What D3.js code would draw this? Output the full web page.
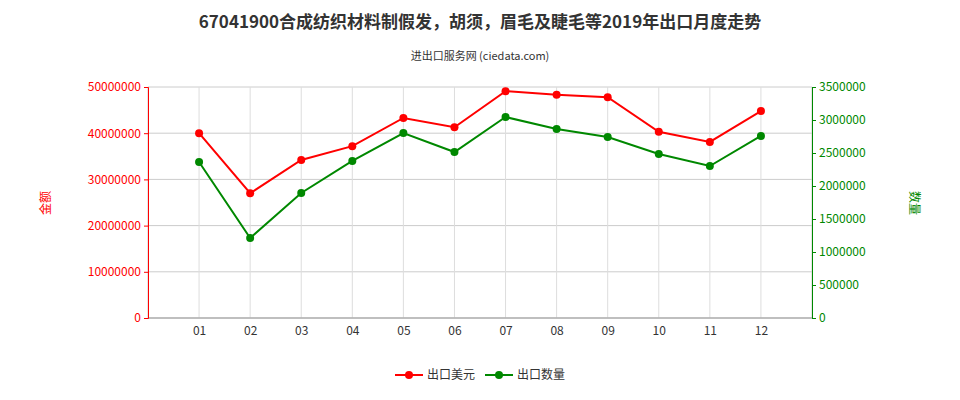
<!DOCTYPE html><html><head><meta charset="utf-8"><script src="https://cdn.jsdelivr.net/npm/d3@7"></script>
<style>body{margin:0;background:#fff}text{font-family:"Noto Sans CJK SC","Noto Sans",sans-serif}</style></head><body><svg id="c" width="960" height="400"></svg><script>
const months=["01","02","03","04","05","06","07","08","09","10","11","12"];
const amount=[40000000,27000000,34200000,37200000,43300000,41300000,49100000,48300000,47800000,40300000,38100000,44800000];
const qty=[2364000,1212000,1894000,2379000,2803000,2515000,3045000,2864000,2742000,2485000,2303000,2758000];
const leftTicks=[0,10000000,20000000,30000000,40000000,50000000];
const rightTicks=[0,500000,1000000,1500000,2000000,2500000,3000000,3500000];
const svg=d3.select("#c");
const L=148,R=812,T=87,B=318;
const x=d3.scalePoint().domain(months).range([L,R]).padding(1);
const yl=d3.scaleLinear().domain([0,50000000]).range([B,T]);
const yr=d3.scaleLinear().domain([0,3500000]).range([B,T]);
const g=svg.append("g");
leftTicks.forEach(t=>g.append("line").attr("x1",L).attr("x2",R).attr("y1",yl(t)).attr("y2",yl(t)).attr("stroke","#ccc"));
months.forEach(m=>g.append("line").attr("x1",x(m)).attr("x2",x(m)).attr("y1",T).attr("y2",B).attr("stroke","#ddd"));
[L,R].forEach(v=>g.append("line").attr("x1",v).attr("x2",v).attr("y1",T).attr("y2",B).attr("stroke","#ccc"));
svg.append("g").attr("transform",`translate(0,${B})`).call(d3.axisBottom(x).tickSize(0).tickPadding(8)).call(a=>{a.select(".domain").attr("stroke","#999").attr("d",`M${L},0H${R}`);a.selectAll("text").attr("font-size",12).attr("fill","#333");});
svg.append("g").attr("transform",`translate(${L},0)`).call(d3.axisLeft(yl).tickValues(leftTicks).tickFormat(d3.format("d")).tickSize(4)).call(a=>{a.select(".domain").attr("stroke","#f00");a.selectAll("line").attr("stroke","#f00");a.selectAll("text").attr("font-size",12).attr("fill","#f00");});
svg.append("g").attr("transform",`translate(${R},0)`).call(d3.axisRight(yr).tickValues(rightTicks).tickFormat(d3.format("d")).tickSize(4)).call(a=>{a.select(".domain").attr("stroke","#080");a.selectAll("line").attr("stroke","#080");a.selectAll("text").attr("font-size",12).attr("fill","#080");});
function series(data,y,color){
 svg.append("path").datum(data).attr("fill","none").attr("stroke",color).attr("stroke-width",2).attr("d",d3.line().x((d,i)=>x(months[i])).y(d=>y(d)));
 svg.append("g").selectAll("circle").data(data).join("circle").attr("cx",(d,i)=>x(months[i])).attr("cy",d=>y(d)).attr("r",4).attr("fill",color);
}
series(amount,yl,"#f00");series(qty,yr,"#080");
svg.append("text").attr("x",480).attr("y",28).attr("text-anchor","middle").attr("font-size",17).attr("font-weight","bold").attr("fill","#333").text("67041900合成纺织材料制假发，胡须，眉毛及睫毛等2019年出口月度走势");
svg.append("text").attr("x",480).attr("y",60).attr("text-anchor","middle").attr("font-size",11).attr("fill","#333").text("进出口服务网 (ciedata.com)");
svg.append("text").attr("transform","translate(50,203) rotate(-90)").attr("text-anchor","middle").attr("font-size",12).attr("fill","#f00").text("金额");
svg.append("text").attr("transform","translate(910,203) rotate(90)").attr("text-anchor","middle").attr("font-size",12).attr("fill","#080").text("数量");
[[395,"#f00","出口美元"],[485,"#080","出口数量"]].forEach(([lx,c,t])=>{
 svg.append("line").attr("x1",lx).attr("x2",lx+28).attr("y1",375).attr("y2",375).attr("stroke",c).attr("stroke-width",2);
 svg.append("circle").attr("cx",lx+14).attr("cy",375).attr("r",4).attr("fill",c);
 svg.append("text").attr("x",lx+32).attr("y",379).attr("font-size",12).attr("fill","#333").text(t);
});
</script></body></html>
